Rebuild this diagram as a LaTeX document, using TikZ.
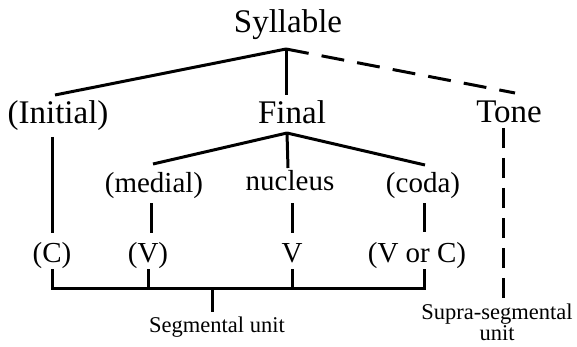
\documentclass[tikz,border=0pt]{standalone}
\usepackage{fontspec}
\setmainfont{Liberation Serif}
\begin{document}
\begin{tikzpicture}[x=1pt,y=-1pt,
  big/.style={font=\fontsize{33}{33}\selectfont, anchor=base, inner sep=0pt},
  mid/.style={font=\fontsize{29}{29}\selectfont, anchor=base, inner sep=0pt},
  small/.style={font=\fontsize{22.5}{22}\selectfont, anchor=base, inner sep=0pt},
  ln/.style={line width=3pt},
  dln/.style={line width=3pt, dash pattern=on 23pt off 13.2pt}]
\useasboundingbox (0,0) rectangle (577,347);
% texts
\node[big] (syl) at (288,33) {Syllable};
\node[big] (ini) at (58,124) {(Initial)};
\node[big] (fin) at (292,124) {Final};
\node[big] (ton) at (509,123) {Tone};
\node[mid] (med) at (154,193) {(medial)};
\node[mid] (nuc) at (290,190) {nucleus};
\node[mid] (cod) at (423,193) {(coda)};
\node[mid] (c) at (52,262) {(C)};
\node[mid] (v1) at (148,262) {(V)};
\node[mid] (v2) at (292,262) {V};
\node[mid] (voc) at (417,262) {(V or C)};
\node[small] (seg) at (217,332) {Segmental unit};
\node[small] (sup) at (497,319) {Supra-segmental};
\node[small] (supu) at (497,340) {unit};
% points
\coordinate (a1) at (286,49);
\coordinate (a2) at (287,133);
\coordinate (b) at (212,288);
% top level
\draw[ln] (a1) -- (55,95);
\draw[ln] (a1) -- (286,95);
\draw[dln] (a1) -- (515,93);
% final
\draw[ln] (a2) -- (153,164);
\draw[ln] (a2) -- (288,168);
\draw[ln] (a2) -- (425,165);
% verticals
\draw[ln] (52,137) -- (52,233);
\draw[ln] (151,203) -- (151,233);
\draw[ln] (292,203) -- (292,233);
\draw[ln] (424,203) -- (424,232);
\draw[ln, dash pattern=on 20pt off 10pt] (503,128) -- (503,298);
% bracket
\draw[ln] (52,269) -- (52,288) -- (424,288) -- (424,269);
\draw[ln] (148,269) -- (148,288);
\draw[ln] (292,269) -- (292,288);
\draw[ln] (b) -- (212,312);
\end{tikzpicture}
\end{document}
